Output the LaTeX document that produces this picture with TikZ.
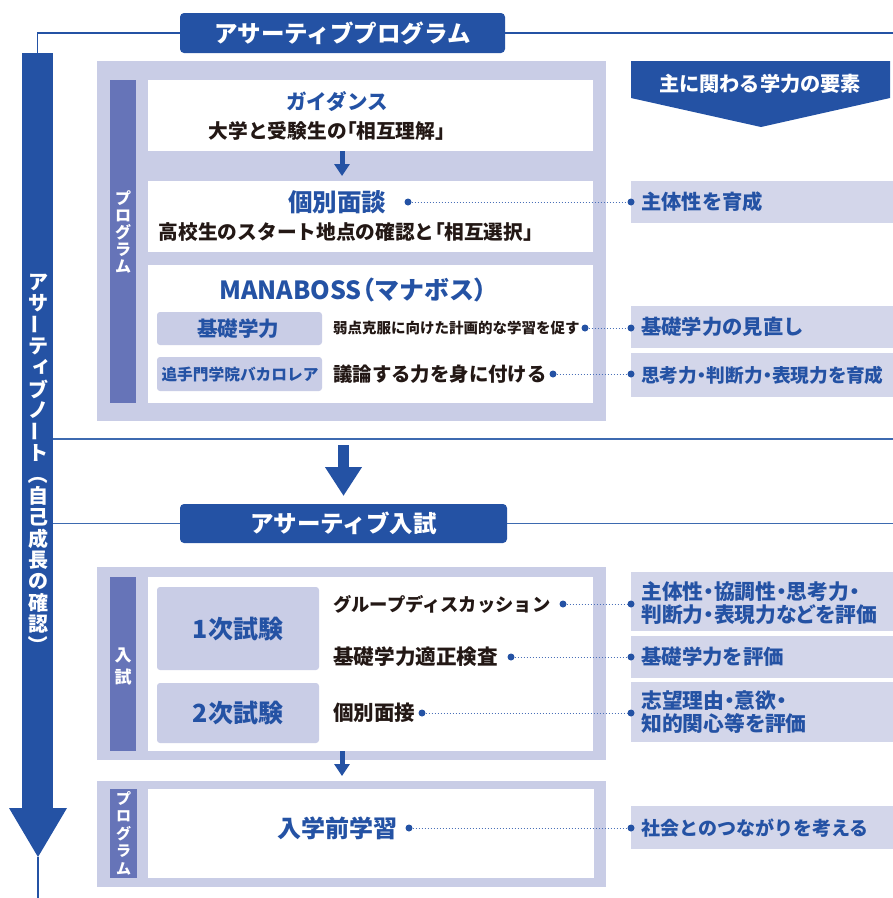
\documentclass[tikz,border=0pt]{standalone}
\usepackage{fontspec}
\setmainfont{Noto Sans CJK JP}
\usepackage{graphicx}
\usetikzlibrary{arrows.meta}
\definecolor{dblue}{HTML}{2452A4}
\definecolor{lav}{HTML}{C9CDE6}
\definecolor{stripc}{HTML}{6674B8}
\definecolor{rbox}{HTML}{D3D6EA}
\definecolor{ink}{HTML}{231815}
\definecolor{lblue}{HTML}{3D6AB0}
\definecolor{dotc}{HTML}{4A70B8}
\newcommand\FS[2]{\fontsize{#1}{#2}\selectfont\bfseries}
\newcommand\PALT{\addfontfeatures{RawFeature=+palt}}
\tikzset{
  sz/.style 2 args={minimum width=#1pt,minimum height=#2pt},
  blk/.style={anchor=north west,inner sep=0pt,outer sep=0pt,draw=none},
  cont/.style={blk,fill=lav},
  stripbox/.style={blk,fill=stripc},
  wbox/.style={blk,fill=white},
  pill/.style={blk,fill=lav,rounded corners=3pt},
  rbx/.style={blk,fill=rbox},
  hdr/.style={blk,fill=dblue,rounded corners=4pt,text=white,font=\FS{23.5}{23.5}},
  btitle/.style={inner sep=0pt,text=dblue},
  itxt/.style={inner sep=0pt,text=ink},
  rtxt/.style={inner sep=0pt,text=dblue,anchor=west,align=left},
  vtxt/.style={inner sep=0pt,text=white,font=\FS{20}{20}},
  stxt/.style={inner sep=0pt,text=white,align=center},
  hline/.style={dblue,line width=1.3pt},
  mline/.style={lblue,line width=1.3pt},
  dotn/.style={circle,fill=dblue,inner sep=0pt,minimum size=7pt},
  dline/.style={dotc,line width=0.8pt,dash pattern=on 1.4pt off 1.6pt},
  sarrow/.style={dblue,line width=5pt,-{Triangle[width=15pt,length=12pt]}},
  barrow/.style={dblue,line width=11pt,-{Triangle[width=35pt,length=29pt]}}
}
\begin{document}
\begin{tikzpicture}[x=1pt,y=-1pt]
\useasboundingbox (0,0) rectangle (893,898);

% ---- left big arrow bar
\node[blk,fill=dblue,sz={31}{755}] (bar) at (22,53) {};
\fill[dblue] (9,808) -- (67,808) -- (38,857) -- cycle;
\coordinate (tipA) at (38,857);
\coordinate (bot) at (38,898);
\draw[hline] (tipA) -- (bot);
\foreach \c/\r/\dx/\dy [count=\i from 0] in {ア/0/0/0,サ/0/0/0,ー/90/0/0,テ/0/0/0,ィ/0/3/1,ブ/0/0/0,ノ/0/0/0,ー/90/0/0,ト/0/0/0,（/-90/0/0,自/0/0/0,己/0/0/0,成/0/0/0,長/0/0/0,の/0/0/0,確/0/0/0,認/0/0/0,）/-90/0/0}
  \node[vtxt,rotate=\r,xshift=\dx pt,yshift=\dy pt] (vt\i) at (38,{282+\i*21.4}) {\c};

% ---- header 1
\node[hdr,sz={325}{40}] (h1) at (180,13) {アサーティブプログラム};
\coordinate (r1) at (893,33);
\draw[hline] (bar.north) |- (h1.west);
\draw[hline] (h1.east) -- (r1);

% ---- right header pentagon
\fill[dblue] (631,61) -- (890,61) -- (890,98) -- (761,127) -- (631,98) -- cycle;
\node[inner sep=0pt,text=white,font=\FS{20.2}{20.2}] (rh) at (760,84) {主に関わる学力の要素};

% ---- container 1
\node[cont,sz={509}{360}] (c1) at (97,61) {};
\node[stripbox,sz={26}{323}] (s1) at (110,80) {};
\node[stxt,font=\FS{16}{17}] (s1t) at (123,232) {プ\\ロ\\グ\\ラ\\ム};
\node[wbox,sz={445}{71}] (guid) at (148,80) {};
\node[btitle,font=\FS{20.5}{20.5}] (guidT) at (337,102) {ガイダンス};
\node[itxt,font=\FS{19.7}{19.7}] (guidS) at (327,131) {大学と受験生の{\PALT「}相互理解{\PALT」}};
\coordinate (a1s) at (342,151);
\coordinate (a1e) at (342,176);
\draw[sarrow] (a1s) -- (a1e);
\node[wbox,sz={445}{71}] (intv) at (148,181) {};
\node[btitle,font=\FS{24.5}{24.5}] (intvT) at (337,202) {個別面談};
\node[itxt,font=\FS{19.7}{19.7}] (intvS) at (346,232) {高校生のスタート地点の確認と{\PALT「}相互選択{\PALT」}};
\node[wbox,sz={445}{138}] (mana) at (148,265) {};
\node[btitle,font=\FS{25}{25}] (manaT) at (353,290) {MANABOSS{\PALT（}マナボス{\PALT）}};
\node[pill,sz={165}{33}] (p1) at (157,312) {};
\node[btitle,font=\FS{20.5}{20.5}] (p1t) at (238,329) {基礎学力};
\node[pill,sz={165}{34}] (p2) at (157,357) {};
\node[btitle,font=\FS{15.7}{15.7}] (p2t) at (240,374) {追手門学院バカロレア};
\node[itxt,anchor=west,font=\FS{14.5}{14.5}] (m1) at (333,328) {弱点克服に向けた計画的な学習を促す};
\node[itxt,anchor=west,font=\FS{19.4}{19.4}] (m2) at (333,374) {議論する力を身に付ける};

% ---- right boxes 1
\node[rbx,sz={262}{42}] (rb1) at (631,181) {};
\node[rtxt,font=\FS{20.3}{20.3}] (rb1t) at (641,202) {主体性を育成};
\node[rbx,sz={262}{42}] (rb2) at (631,306) {};
\node[rtxt,font=\FS{20.3}{20.3}] (rb2t) at (641,327) {基礎学力の見直し};
\node[rbx,sz={262}{44}] (rb3) at (631,353) {};
\node[rtxt,font=\FS{18.7}{18.7}\PALT] (rb3t) at (641,375) {思考力・判断力・表現力を育成};

% ---- connectors 1
\node[dotn] (d1a) at (408,202) {};
\node[dotn] (d1b) at (631,202) {};
\draw[dline] (d1a) -- (d1b);
\node[dotn] (d2a) at (585,328) {};
\node[dotn] (d2b) at (631,328) {};
\draw[dline] (d2a) -- (d2b);
\node[dotn] (d3a) at (553,374) {};
\node[dotn] (d3b) at (631,374) {};
\draw[dline] (d3a) -- (d3b);

% ---- middle line and arrow
\coordinate (m1a) at (53,439);
\coordinate (m1b) at (893,439);
\draw[mline] (m1a) -- (m1b);
\coordinate (ba1) at (343.5,445);
\coordinate (ba2) at (343.5,496);
\draw[barrow] (ba1) -- (ba2);

% ---- header 2
\node[hdr,sz={327}{39}] (h2) at (180,504) {アサーティブ入試};
\coordinate (m2a) at (53,523.5);
\coordinate (m2b) at (893,523.5);
\draw[mline] (m2a) -- (h2.west);
\draw[mline] (h2.east) -- (m2b);

% ---- container 2
\node[cont,sz={509}{193}] (c2) at (97,567) {};
\node[stripbox,sz={26}{174}] (s2) at (110,577) {};
\node[stxt,font=\FS{17}{22}] (s2t) at (123,666) {入\\試};
\node[wbox,sz={445}{174}] (exam) at (148,577) {};
\node[pill,sz={162}{83}] (e1) at (157,587) {};
\node[btitle,font=\FS{25}{25}] (e1t) at (238,629) {1次試験};
\node[pill,sz={162}{60}] (e2) at (157,683) {};
\node[btitle,font=\FS{25}{25}] (e2t) at (238,713) {2次試験};
\node[itxt,anchor=west,font=\FS{18.3}{18.3}] (x1) at (333,604) {グループディスカッション};
\node[itxt,anchor=west,font=\FS{20.6}{20.6}] (x2) at (333,657) {基礎学力適正検査};
\node[itxt,anchor=west,font=\FS{20.5}{20.5}] (x3) at (333,713) {個別面接};

% ---- right boxes 2
\node[rbx,sz={262}{59}] (rb4) at (631,572) {};
\node[rtxt,font=\FS{20.8}{23}\PALT] (rb4t) at (641,603) {主体性・協調性・思考力・\\判断力・表現力などを評価};
\node[rbx,sz={262}{42}] (rb5) at (631,636) {};
\node[rtxt,font=\FS{20.4}{20.4}] (rb5t) at (641,657) {基礎学力を評価};
\node[rbx,sz={262}{60}] (rb6) at (631,682) {};
\node[rtxt,font=\FS{20.8}{23}\PALT] (rb6t) at (641,712) {志望理由・意欲・\\知的関心等を評価};

% ---- connectors 2
\node[dotn] (d4a) at (563,604) {};
\node[dotn] (d4b) at (631,604) {};
\draw[dline] (d4a) -- (d4b);
\node[dotn] (d5a) at (511,657) {};
\node[dotn] (d5b) at (631,657) {};
\draw[dline] (d5a) -- (d5b);
\node[dotn] (d6a) at (422,713) {};
\node[dotn] (d6b) at (631,713) {};
\draw[dline] (d6a) -- (d6b);

% ---- small arrow 2
\coordinate (a2s) at (342,751);
\coordinate (a2e) at (342,776);
\draw[sarrow] (a2s) -- (a2e);

% ---- container 3
\node[cont,sz={509}{106}] (c3) at (97,781) {};
\node[stripbox,sz={27}{89}] (s3) at (110,789) {};
\node[stxt,font=\FS{15}{17.5}] (s3t) at (123.5,833) {プ\\ロ\\グ\\ラ\\ム};
\node[wbox,sz={446}{89}] (pre) at (148,789) {};
\node[btitle,font=\FS{24}{24}] (preT) at (337,828) {入学前学習};
\node[rbx,sz={262}{43}] (rb7) at (631,806) {};
\node[rtxt,font=\FS{19}{19}] (rb7t) at (641,828) {社会とのつながりを考える};
\node[dotn] (d7a) at (409,828) {};
\node[dotn] (d7b) at (631,828) {};
\draw[dline] (d7a) -- (d7b);
\end{tikzpicture}
\end{document}
